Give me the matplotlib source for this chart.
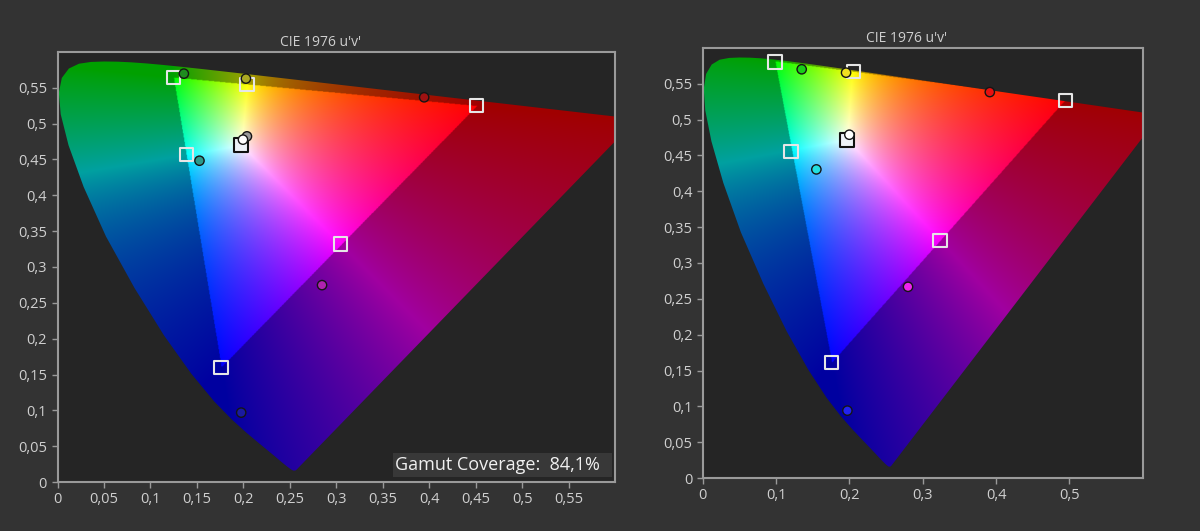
import matplotlib
matplotlib.use('Agg')
import matplotlib.pyplot as plt
import numpy as np
from matplotlib.patches import Polygon, Rectangle
from matplotlib.ticker import FuncFormatter

plt.rcParams['font.family'] = ['Open Sans', 'DejaVu Sans']

# CIE 1931 2 deg spectral locus, 380-700 nm (x, y)
locusX = [0.1741, 0.1740, 0.1738, 0.1736, 0.1733, 0.1730, 0.1726, 0.1721, 0.1714, 0.1703,
          0.1689, 0.1669, 0.1644, 0.1611, 0.1566, 0.1510, 0.1440, 0.1355, 0.1241, 0.1096,
          0.0913, 0.0687, 0.0454, 0.0235, 0.0082, 0.0039, 0.0139, 0.0389, 0.0743, 0.1142,
          0.1547, 0.1929, 0.2296, 0.2658, 0.3016, 0.3373, 0.3731, 0.4087, 0.4441, 0.4788,
          0.5125, 0.5448, 0.5752, 0.6029, 0.6270, 0.6482, 0.6658, 0.6801, 0.6915, 0.7006,
          0.7079, 0.7140, 0.7190, 0.7230, 0.7260, 0.7300, 0.7320, 0.7334, 0.7347]
locusY = [0.0050, 0.0050, 0.0049, 0.0049, 0.0048, 0.0048, 0.0048, 0.0048, 0.0051, 0.0058,
          0.0069, 0.0086, 0.0109, 0.0138, 0.0177, 0.0227, 0.0297, 0.0399, 0.0578, 0.0868,
          0.1327, 0.2007, 0.2950, 0.4127, 0.5384, 0.6548, 0.7502, 0.8120, 0.8338, 0.8262,
          0.8059, 0.7816, 0.7543, 0.7243, 0.6923, 0.6589, 0.6245, 0.5896, 0.5547, 0.5202,
          0.4866, 0.4544, 0.4242, 0.3965, 0.3725, 0.3514, 0.3340, 0.3197, 0.3083, 0.2993,
          0.2920, 0.2859, 0.2809, 0.2770, 0.2740, 0.2700, 0.2680, 0.2666, 0.2653]

# targets (squares), order R, G, B, C, M, Y, W
leftTargetU = [0.451, 0.1245, 0.1759, 0.1388, 0.305, 0.204, 0.1977]
leftTargetV = [0.525, 0.5647, 0.160, 0.4567, 0.332, 0.5545, 0.4697]
rightTargetU = [0.4952, 0.0986, 0.176, 0.1205, 0.3237, 0.2055, 0.1973]
rightTargetV = [0.527, 0.5804, 0.1606, 0.4553, 0.3314, 0.567, 0.471]

# measured (circles), order R, G, B, C, M, Y, (gray), W
leftMeasU = [0.3946, 0.136, 0.1977, 0.1528, 0.2847, 0.2028, 0.2039, 0.1996]
leftMeasV = [0.5368, 0.5698, 0.0968, 0.4483, 0.2747, 0.5629, 0.4823, 0.4777]
leftMeasColors = ['#a01212', '#1f8c1f', '#1a1aa0', '#2a9a8c', '#b022b0', '#aaa822', '#9a9a9a', '#ffffff']
rightMeasU = [0.3915, 0.135, 0.1973, 0.155, 0.28, 0.1955, 0.2]
rightMeasV = [0.5385, 0.5703, 0.094, 0.4306, 0.2668, 0.5656, 0.479]
rightMeasColors = ['#e81010', '#18d018', '#2222f0', '#22e0e0', '#f022f0', '#f0e020', '#ffffff']

leftTicksX = [0, 0.05, 0.1, 0.15, 0.2, 0.25, 0.3, 0.35, 0.4, 0.45, 0.5, 0.55]
rightTicksX = [0, 0.1, 0.2, 0.3, 0.4, 0.5]
ticksY = [0, 0.05, 0.1, 0.15, 0.2, 0.25, 0.3, 0.35, 0.4, 0.45, 0.5, 0.55]

titleText = "CIE 1976 u'v'"
coverageText = 'Gamut Coverage:  84,1%'


def uvToXYZ(u, v):
    d = 6 * u - 16 * v + 12
    x = 9 * u / d
    y = np.maximum(4 * v / d, 1e-6)
    return np.array([x / y, np.ones_like(x), (1 - x - y) / y])


def chromaImage(primU, primV, whiteU, whiteV, n=800):
    grid = np.linspace(0, 0.6, n)
    uu, vv = np.meshgrid(grid, grid)
    xyz = uvToXYZ(uu, vv)
    prim = uvToXYZ(np.array(primU), np.array(primV))
    white = uvToXYZ(np.array(whiteU), np.array(whiteV))
    m = prim * np.linalg.solve(prim, white)
    rgb = np.einsum('ij,jkl->ikl', np.linalg.inv(m), xyz)
    inside = np.all(rgb >= 0, axis=0)
    rgb = np.clip(rgb, 0, None)
    rgb = rgb / (rgb.max(axis=0, keepdims=True) + 1e-9)
    rgb = rgb ** (1 / 1.2)
    rgb[:, ~inside] *= 0.63
    return np.moveaxis(rgb, 0, -1)


def fmt(val, pos):
    return f'{val:g}'.replace('.', ',')


def drawPanel(ax, targetU, targetV, measU, measV, measColors, ticksX):
    ax.set_facecolor('#252525')
    img = chromaImage(targetU[:3], targetV[:3], targetU[6], targetV[6])
    im = ax.imshow(img, extent=(0, 0.6, 0, 0.6), origin='lower', aspect='auto',
                   interpolation='bilinear', zorder=1)
    lx = np.array(locusX)
    ly = np.array(locusY)
    d = -2 * lx + 12 * ly + 3
    locus = Polygon(np.column_stack([4 * lx / d, 9 * ly / d]), closed=True,
                    transform=ax.transData)
    im.set_clip_path(locus)

    ax.scatter(targetU[:6], targetV[:6], marker='s', s=90, facecolors='none',
               edgecolors='#e6e6e6', linewidths=1.5, zorder=3)
    ax.scatter(targetU[6:], targetV[6:], marker='s', s=90, facecolors='#eef2f8',
               edgecolors='#111111', linewidths=1.5, zorder=3)
    ax.scatter(measU, measV, marker='o', s=45, c=measColors,
               edgecolors='#151515', linewidths=1.0, zorder=4)

    ax.set_xlim(0, 0.6)
    ax.set_ylim(0, 0.6)
    ax.set_xticks(ticksX)
    ax.set_yticks(ticksY)
    ax.xaxis.set_major_formatter(FuncFormatter(fmt))
    ax.yaxis.set_major_formatter(FuncFormatter(fmt))
    ax.tick_params(colors='#9a9a9a', labelcolor='#cfcfcf', labelsize=10.5, length=4, width=1)
    for spine in ax.spines.values():
        spine.set_color('#9a9a9a')
        spine.set_linewidth(1.5)


def main() -> None:
    fig = plt.figure(figsize=(12, 5.31), dpi=100)
    fig.patch.set_facecolor('#333333')

    axL = fig.add_axes([57.5 / 1200, 49 / 531, 557.5 / 1200, 430 / 531])
    axR = fig.add_axes([702.7 / 1200, 53 / 531, 440 / 1200, 430 / 531])

    drawPanel(axL, leftTargetU, leftTargetV, leftMeasU, leftMeasV, leftMeasColors, leftTicksX)
    drawPanel(axR, rightTargetU, rightTargetV, rightMeasU, rightMeasV, rightMeasColors, rightTicksX)

    fig.text(321 / 1200, 1 - 43 / 531, titleText, color='#cfcfcf', fontsize=10,
             ha='center', va='center')
    fig.text(907 / 1200, 1 - 39 / 531, titleText, color='#cfcfcf', fontsize=10,
             ha='center', va='center')

    axL.add_patch(Rectangle((0.601, 0.012), 0.394, 0.056, transform=axL.transAxes,
                            facecolor='#383838', edgecolor='none', zorder=5))
    axL.text(0.605, 0.04, coverageText, transform=axL.transAxes, color='#f0f0f0',
             fontsize=13, ha='left', va='center', zorder=6)

    fig.savefig('out.png', dpi=100, facecolor=fig.get_facecolor())


if __name__ == '__main__':
    main()
